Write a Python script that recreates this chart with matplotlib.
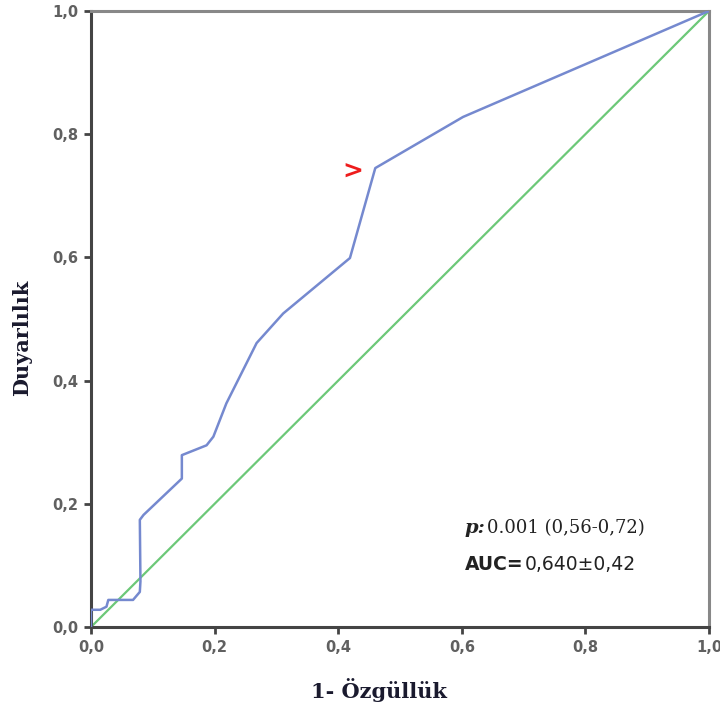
import matplotlib
matplotlib.use("Agg")
import matplotlib.pyplot as plt
from matplotlib.ticker import FuncFormatter

# ROC curve (1 - specificity, sensitivity)
fpr = [0.0, 0.0, 0.015, 0.025, 0.028, 0.068, 0.079, 0.080, 0.079, 0.085,
       0.147, 0.147, 0.187, 0.198, 0.219, 0.268, 0.311, 0.419, 0.460,
       0.602, 1.0]
tpr = [0.0, 0.028, 0.028, 0.033, 0.044, 0.044, 0.057, 0.074, 0.174, 0.182,
       0.241, 0.279, 0.295, 0.309, 0.363, 0.461, 0.509, 0.599, 0.745,
       0.828, 1.0]
ref_line = [0.0, 1.0]
ticks = [0.0, 0.2, 0.4, 0.6, 0.8, 1.0]
cut_point = (0.424, 0.739)

x_title = "1- Özgüllük"
y_title = "Duyarlılık"

fig = plt.figure(figsize=(7.2, 7.05), dpi=100)
ax = fig.add_axes([0.1264, 0.1106, 0.8583, 0.8738])

ax.plot(ref_line, ref_line, color="#6cc878", lw=1.6, zorder=2)
ax.plot(fpr, tpr, color="#7589cf", lw=1.8, zorder=3)

# red cut-off marker
ax.text(cut_point[0], cut_point[1], ">", color="#ee1c1c", fontsize=18,
        fontweight="bold", ha="center", va="center", family="DejaVu Sans")

ax.set_xlim(0, 1)
ax.set_ylim(0, 1)
ax.set_xticks(ticks)
ax.set_yticks(ticks)
fmt = FuncFormatter(lambda v, pos: ("%.1f" % v).replace(".", ","))
ax.xaxis.set_major_formatter(fmt)
ax.yaxis.set_major_formatter(fmt)
ax.tick_params(direction="out", length=5, width=2, color="#444444",
               labelsize=10.5, labelcolor="#606060", pad=4)
for lab in ax.get_xticklabels() + ax.get_yticklabels():
    lab.set_family("DejaVu Sans")
    lab.set_fontweight("bold")

for side in ["left", "bottom"]:
    ax.spines[side].set_color("#444444")
    ax.spines[side].set_linewidth(2.2)
for side in ["top", "right"]:
    ax.spines[side].set_color("#888888")
    ax.spines[side].set_linewidth(2.2)

ax.set_xlabel(x_title, family="DejaVu Serif", fontweight="bold",
              fontsize=15, color="#1a1a2e", va="center")
ax.set_ylabel(y_title, family="DejaVu Serif", fontweight="bold",
              fontsize=15, color="#1a1a2e", va="center")
ax.xaxis.set_label_coords(0.466, -0.102)
ax.yaxis.set_label_coords(-0.112, 0.47)

# stats text
ax.text(0.605, 0.160, "p:", fontsize=14, color="#222222", ha="left",
        va="center", family="DejaVu Serif", fontstyle="italic",
        fontweight="bold")
ax.text(0.641, 0.160, "0.001 (0,56-0,72)", fontsize=13, color="#222222",
        ha="left", va="center", family="DejaVu Serif")
ax.text(0.605, 0.101, "AUC=", fontsize=13.5, color="#222222", ha="left",
        va="center", family="DejaVu Sans", fontweight="bold")
ax.text(0.702, 0.101, "0,640±0,42", fontsize=13.5, color="#222222",
        ha="left", va="center", family="DejaVu Sans")

fig.savefig("out.png", dpi=100)
